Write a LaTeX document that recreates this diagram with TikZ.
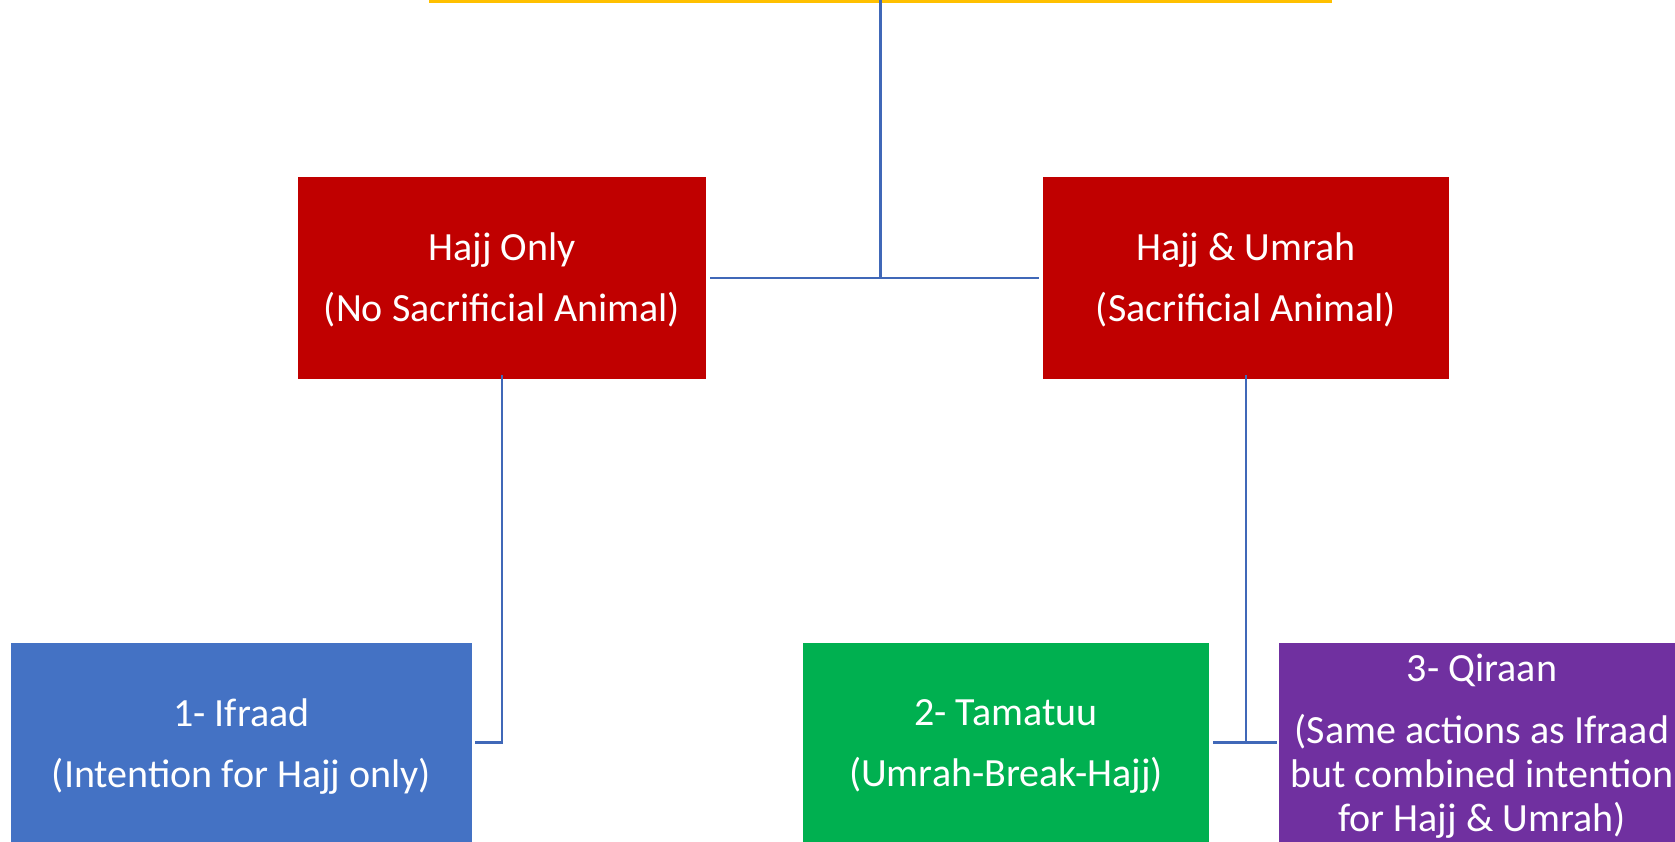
\documentclass[tikz,border=0pt]{standalone}
\usepackage{fontspec}
\setmainfont{Carlito}
\definecolor{hred}{HTML}{C00000}
\definecolor{hblue}{HTML}{4472C4}
\definecolor{hgreen}{HTML}{00B050}
\definecolor{hpurple}{HTML}{7030A0}
\definecolor{hyellow}{HTML}{FFC000}
\definecolor{hline}{HTML}{4068B8}
\tikzset{
  boxnode/.style={rectangle, draw=none, inner sep=0pt},
  boxtext/.style={text=white, align=center, inner sep=0pt,
    font=\fontsize{40}{61}\selectfont},
  conn/.style={draw=hline, line width=2.5pt},
}
\begin{document}
\begin{tikzpicture}[x=1pt,y=-1pt]
\useasboundingbox (0,0) rectangle (1675,842);
\clip (0,0) rectangle (1675,842);
\fill[white] (0,0) rectangle (1675,842);
\node[rectangle, draw=hyellow, line width=3pt, fill=white, minimum width=900pt, minimum height=100pt, inner sep=0pt] (top) at (880.5,-48.5) {};
\node[boxnode, fill=hred, minimum width=408pt, minimum height=202pt] (hajj) at (502,278) {};
\node[boxnode, fill=hred, minimum width=406pt, minimum height=202pt] (hu) at (1246,278) {};
\node[boxnode, fill=hblue, minimum width=461pt, minimum height=199pt] (ifraad) at (241.5,742.5) {};
\node[boxnode, fill=hgreen, minimum width=406pt, minimum height=199pt] (tam) at (1006,742.5) {};
\node[boxnode, fill=hpurple, minimum width=406pt, minimum height=199pt] (qir) at (1482,742.5) {};
\node[boxtext] (hajjtxt) at ([yshift=-1.5pt]hajj.center) {Hajj Only\\(No Sacrificial Animal)};
\node[boxtext] (hutxt) at ([yshift=-1.5pt]hu.center) {Hajj \& Umrah\\(Sacrificial Animal)};
\node[boxtext] (ifraadtxt) at ([yshift=-4pt]ifraad.center) {1- Ifraad\\(Intention for Hajj only)};
\node[boxtext] (tamtxt) at ([yshift=-4pt]tam.center) {2- Tamatuu\\(Umrah-Break-Hajj)};
\node[boxtext, font=\fontsize{40}{44}\selectfont] (qirtxt) at ([yshift=-3.5pt]qir.center) {3- Qiraan\\[18pt](Same actions as Ifraad\\but combined intention\\for Hajj \& Umrah)};
\draw[conn] ([yshift=3pt]top.south) -- (top.south |- hajj.east);
\draw[conn] ([xshift=4pt]hajj.east) -- ([xshift=-4pt]hu.west);
\draw[conn] ([yshift=4pt]hajj.south) |- ([xshift=3pt]ifraad.east);
\draw[conn] ([yshift=4pt]hu.south) -- (hu.south |- tam.east);
\draw[conn] ([xshift=4pt]tam.east) -- ([xshift=-2pt]qir.west);
\end{tikzpicture}
\end{document}
